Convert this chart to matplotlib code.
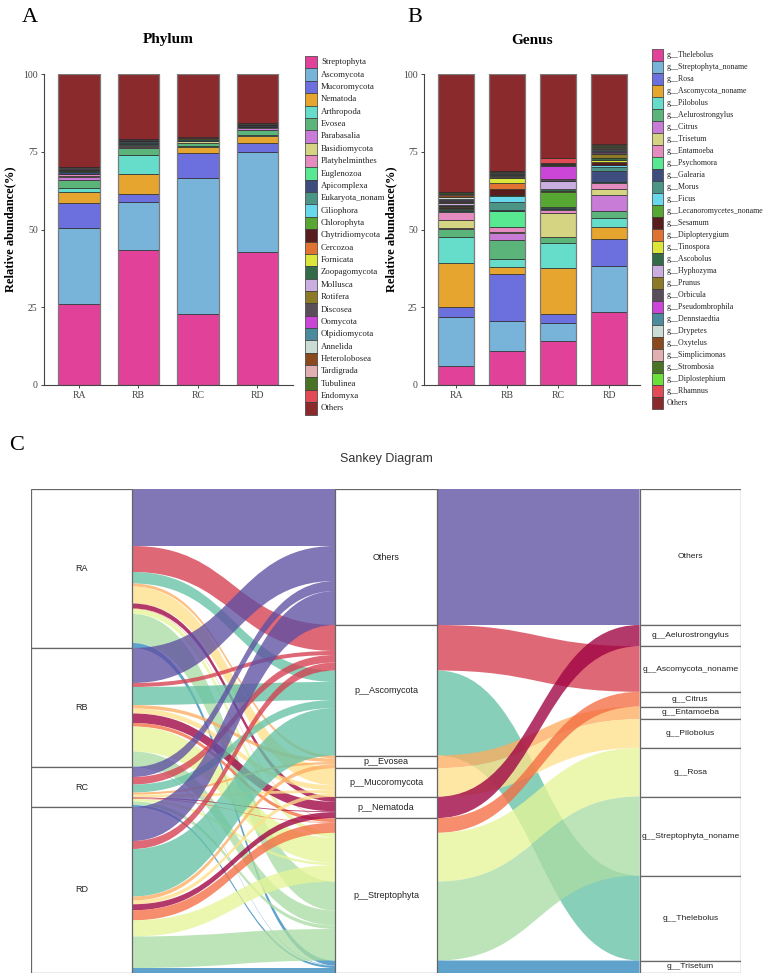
import matplotlib
matplotlib.use('Agg')
import matplotlib.pyplot as plt
from matplotlib.patches import Rectangle, PathPatch
from matplotlib.path import Path
import numpy as np

W, H = 767, 977
SERIF = 'Liberation Serif'
SANS = 'Liberation Sans'

samples = ['RA', 'RB', 'RC', 'RD']

# ---- panel A: phylum relative abundance (%) ----
phyla = ['Streptophyta', 'Ascomycota', 'Mucoromycota', 'Nematoda', 'Arthropoda', 'Evosea',
         'Parabasalia', 'Basidiomycota', 'Platyhelminthes', 'Euglenozoa', 'Apicomplexa',
         'Eukaryota_nonam', 'Ciliophora', 'Chlorophyta', 'Chytridiomycota', 'Cercozoa',
         'Fornicata', 'Zoopagomycota', 'Mollusca', 'Rotifera', 'Discosea', 'Oomycota',
         'Olpidiomycota', 'Annelida', 'Heterolobosea', 'Tardigrada', 'Tubulinea', 'Endomyxa',
         'Others']
phylum_abund = [
    [26.0, 43.4, 22.7, 42.9],
    [24.4, 15.5, 43.8, 31.9],
    [8.0, 2.4, 8.2, 3.1],
    [3.6, 6.4, 1.9, 2.3],
    [1.2, 6.4, 0.3, 0.2],
    [2.6, 2.1, 0.9, 1.6],
    [1.2, 0.3, 0.1, 0.6],
    [0.3, 0.4, 0.4, 0.2],
    [0.5, 0.3, 0.2, 0.2],
    [0.2, 0.4, 0.1, 0.1],
    [0.6, 0.3, 0.2, 0.2],
    [0.2, 0.3, 0.1, 0.2],
    [0.1, 0.2, 0.1, 0.1],
    [0.2, 0.2, 0.1, 0.1],
    [0.2, 0.2, 0.1, 0.1],
    [0.1, 0.05, 0.05, 0.05],
    [0.05, 0.03, 0.03, 0.03],
    [0.1, 0.03, 0.03, 0.03],
    [0.1, 0.03, 0.03, 0.03],
    [0.05, 0.03, 0.03, 0.03],
    [0.1, 0.03, 0.03, 0.03],
    [0.05, 0.03, 0.03, 0.03],
    [0.05, 0.03, 0.03, 0.03],
    [0.05, 0.03, 0.03, 0.03],
    [0.05, 0.03, 0.03, 0.03],
    [0.05, 0.03, 0.03, 0.03],
    [0.05, 0.03, 0.03, 0.03],
    [0.05, 0.03, 0.03, 0.03],
    [29.8, 20.8, 20.4, 15.8],
]
phylum_colors = ['#E2419A', '#78B4D9', '#6C6FDE', '#E5A52E', '#66DDCB', '#5BB47A',
                 '#C87CD8', '#D4D483', '#E58BBF', '#58E892', '#3E4C7E', '#4A9585',
                 '#68D9EC', '#56A832', '#5A1D1D', '#E07232', '#DCE63A', '#336B48',
                 '#CBAEE0', '#8C7A26', '#5A4E5A', '#CB46D6', '#4B8B9E', '#CADCD3',
                 '#8A4A1E', '#E1AFB2', '#497425', '#E24A56', '#8B2A2D']

# ---- panel B: genus relative abundance (%) ----
genera = ['g__Thelebolus', 'g__Streptophyta_noname', 'g__Rosa', 'g__Ascomycota_noname',
          'g__Pilobolus', 'g__Aelurostrongylus', 'g__Citrus', 'g__Trisetum', 'g__Entamoeba',
          'g__Psychomora', 'g__Galearia', 'g__Morus', 'g__Ficus', 'g__Lecanoromycetes_noname',
          'g__Sesamum', 'g__Diplopterygium', 'g__Tinospora', 'g__Ascobolus', 'g__Hyphozyma',
          'g__Prunus', 'g__Orbicula', 'g__Pseudombrophila', 'g__Dennstaedtia', 'g__Drypetes',
          'g__Oxytelus', 'g__Simplicimonas', 'g__Strombosia', 'g__Diplostephium',
          'g__Rhamnus', 'Others']
genus_abund = [
    [6.2, 10.9, 14.3, 23.4],
    [15.8, 9.8, 5.7, 15.0],
    [3.2, 14.9, 2.8, 8.4],
    [14.1, 2.4, 14.7, 4.1],
    [8.2, 2.4, 8.1, 2.9],
    [2.7, 6.2, 1.9, 2.3],
    [0.2, 2.2, 0.2, 5.0],
    [2.5, 0.3, 7.5, 1.8],
    [2.7, 1.8, 1.1, 1.9],
    [0.3, 5.2, 0.2, 0.4],
    [0.2, 0.2, 0.2, 3.5],
    [0.3, 2.4, 0.3, 1.5],
    [0.2, 2.2, 0.3, 0.4],
    [0.2, 0.2, 4.6, 0.2],
    [0.3, 1.8, 0.2, 0.8],
    [0.5, 1.9, 0.1, 0.2],
    [0.1, 1.6, 0.1, 0.6],
    [0.3, 0.5, 0.7, 0.5],
    [0.4, 0.3, 2.6, 0.2],
    [0.4, 0.2, 0.1, 1.2],
    [0.5, 0.5, 0.5, 0.6],
    [0.2, 0.1, 4.2, 0.2],
    [0.2, 0.1, 0.4, 0.5],
    [0.8, 0.1, 0.1, 0.2],
    [0.6, 0.1, 0.1, 0.4],
    [0.3, 0.2, 0.2, 0.2],
    [0.4, 0.2, 0.1, 0.6],
    [0.1, 0.1, 0.1, 0.3],
    [0.2, 0.1, 1.5, 0.1],
    [37.9, 31.1, 27.1, 22.6],
]
genus_colors = phylum_colors[:27] + ['#6CE03A', '#E24A56', '#8B2A2D']

# ---- panel C: sankey (sample -> phylum -> genus) ----
sk_phyla = ['Others', 'p__Ascomycota', 'p__Evosea', 'p__Mucoromycota', 'p__Nematoda',
            'p__Streptophyta']
sk_genera = ['Others', 'g__Aelurostrongylus', 'g__Ascomycota_noname', 'g__Citrus',
             'g__Entamoeba', 'g__Pilobolus', 'g__Rosa', 'g__Streptophyta_noname',
             'g__Thelebolus', 'g__Trisetum']
sk_genus_phylum = [0, 4, 1, 5, 2, 3, 5, 5, 1, 5]
sk_values = [
    [57, 5, 26, 0.5, 3, 17, 5, 29, 11.5, 5],       # RA
    [35, 9.5, 4, 3.5, 3.5, 5, 25, 15, 18, 0.5],     # RB
    [10, 0.8, 7.5, 0.7, 2.2, 2.8, 2.5, 3.5, 8, 2],  # RC
    [34, 6, 8, 10, 4, 3.8, 16.2, 31.5, 47.5, 5],    # RD
]
sk_colors = ['#5e4fa2', '#9e0142', '#d53e4f', '#f46d43', '#fdae61', '#fee08b',
             '#e6f598', '#abdda4', '#66c2a5', '#3288bd']

fig = plt.figure(figsize=(W / 100, H / 100), dpi=100)


def px_axes(x0, y0, x1, y1):
    return fig.add_axes([x0 / W, 1 - y1 / H, (x1 - x0) / W, (y1 - y0) / H])


def stacked(ax, data, colors, xlim, ylab_x):
    x = np.arange(len(samples))
    bottom = np.zeros(len(samples))
    for vals, c in zip(data, colors):
        vals = np.array(vals)
        ax.bar(x, vals, bottom=bottom, width=0.7, color=c, edgecolor='#2b2b2b', linewidth=0.5)
        bottom += vals
    ax.bar(x, bottom, width=0.7, fill=False, edgecolor='#7a7a7a', linewidth=0.9)
    ax.set_xlim(*xlim)
    ax.set_ylim(0, 100)
    ax.set_xticks(x)
    ax.set_xticklabels(samples, fontfamily=SERIF, fontsize=7, color='#333')
    ax.set_yticks([0, 25, 50, 75, 100])
    ax.set_yticklabels(['0', '25', '50', '75', '100'], fontfamily=SERIF, fontsize=7, color='#333')
    ax.tick_params(length=2.5, width=0.7, colors='#444', pad=2)
    for s in ['top', 'right']:
        ax.spines[s].set_visible(False)
    for s in ['left', 'bottom']:
        ax.spines[s].set_color('#444')
        ax.spines[s].set_linewidth(0.8)
    ax.set_ylabel('Relative abundance(%)', fontfamily=SERIF, fontsize=9, fontweight='bold')
    ax.yaxis.set_label_coords(ylab_x, 0.5)


axA = px_axes(44, 74, 293, 385)
stacked(axA, phylum_abund, phylum_colors, (-0.59, 3.6), -0.11)
axB = px_axes(424, 74, 640, 385)
stacked(axB, genus_abund, genus_colors, (-0.63, 3.6), -0.125)

# overlay for legends and panel text, in pixel units
ov = fig.add_axes([0, 0, 1, 1], facecolor='none')
ov.set_xlim(0, W)
ov.set_ylim(H, 0)
ov.axis('off')


def legend(labels, colors, x0, y0, step, sw, fs):
    for i, (lab, c) in enumerate(zip(labels, colors)):
        yc = y0 + i * step
        ov.add_patch(Rectangle((x0, yc - step / 2), sw, step, facecolor=c,
                               edgecolor='#3a3a3a', linewidth=0.5))
        ov.text(x0 + sw + 4, yc, lab, fontfamily=SERIF, fontsize=fs, va='center', ha='left',
                color='#222')


legend(phyla, phylum_colors, 305, 62.3, 12.36, 12, 6.3)
legend(genera, genus_colors, 652, 55, 12.0, 11, 5.7)

ov.text(168.5, 40, 'Phylum', fontfamily=SERIF, fontsize=11, fontweight='bold', ha='center', va='center')
ov.text(532, 40, 'Genus', fontfamily=SERIF, fontsize=11, fontweight='bold', ha='center', va='center')
ov.text(30, 17, 'A', fontfamily=SERIF, fontsize=16, ha='center', va='center')
ov.text(415, 17, 'B', fontfamily=SERIF, fontsize=16, ha='center', va='center')
ov.text(17, 446, 'C', fontfamily=SERIF, fontsize=16, ha='center', va='center')
ov.text(386, 459, 'Sankey Diagram', fontfamily=SANS, fontsize=9, ha='center', va='center', color='#333')

# ---- sankey ----
axC = px_axes(31, 489, 741, 973)
vals = np.array(sk_values, dtype=float)
total = vals.sum()
axC.set_xlim(0, 7)
axC.set_ylim(total, 0)
axC.axis('off')

s_tot = vals.sum(axis=1)
g_tot = vals.sum(axis=0)
p_tot = np.array([g_tot[[g for g in range(len(sk_genera)) if sk_genus_phylum[g] == p]].sum()
                  for p in range(len(sk_phyla))])
s_top = np.concatenate([[0], np.cumsum(s_tot)[:-1]])
p_top = np.concatenate([[0], np.cumsum(p_tot)[:-1]])
g_top = np.concatenate([[0], np.cumsum(g_tot)[:-1]])


def band(x0, a0, b0, x1, a1, b1, color):
    xm = (x0 + x1) / 2
    verts = [(x0, a0), (xm, a0), (xm, a1), (x1, a1), (x1, b1),
             (xm, b1), (xm, b0), (x0, b0), (x0, a0)]
    codes = [Path.MOVETO, Path.CURVE4, Path.CURVE4, Path.CURVE4, Path.LINETO,
             Path.CURVE4, Path.CURVE4, Path.CURVE4, Path.CLOSEPOLY]
    axC.add_patch(PathPatch(Path(verts, codes), facecolor=color, edgecolor='none',
                            alpha=0.78, zorder=1))


g_order = sorted(range(len(sk_genera)), key=lambda g: (sk_genus_phylum[g], g))

# source offsets at sample nodes
src = {}
for si in range(len(samples)):
    off = s_top[si]
    for g in g_order:
        src[(si, g)] = off
        off += vals[si, g]
# destination offsets at phylum nodes
dst = {}
for p in range(len(sk_phyla)):
    off = p_top[p]
    for g in [g for g in g_order if sk_genus_phylum[g] == p]:
        for si in range(len(samples)):
            dst[(si, g)] = off
            off += vals[si, g]

for si in range(len(samples)):
    for g in g_order:
        v = vals[si, g]
        if v <= 0:
            continue
        a0 = src[(si, g)]
        a1 = dst[(si, g)]
        band(1, a0, a0 + v, 3, a1, a1 + v, sk_colors[g])

for p in range(len(sk_phyla)):
    off = p_top[p]
    for g in [g for g in g_order if sk_genus_phylum[g] == p]:
        band(4, off, off + g_tot[g], 6, g_top[g], g_top[g] + g_tot[g], sk_colors[g])
        off += g_tot[g]


def nodes(x, tops, sizes, labels, fs):
    for t, h, lab in zip(tops, sizes, labels):
        axC.add_patch(Rectangle((x, t), 1, h, facecolor='white', edgecolor='#666',
                                linewidth=0.9, zorder=3))
        axC.text(x + 0.5, t + h / 2, lab, fontfamily=SANS, fontsize=fs, ha='center',
                 va='center', color='#222', zorder=4)


nodes(0, s_top, s_tot, samples, 6.5)
nodes(3, p_top, p_tot, sk_phyla, 6.5)
nodes(6, g_top, g_tot, sk_genera, 6.1)

fig.savefig('out.png', dpi=100)
